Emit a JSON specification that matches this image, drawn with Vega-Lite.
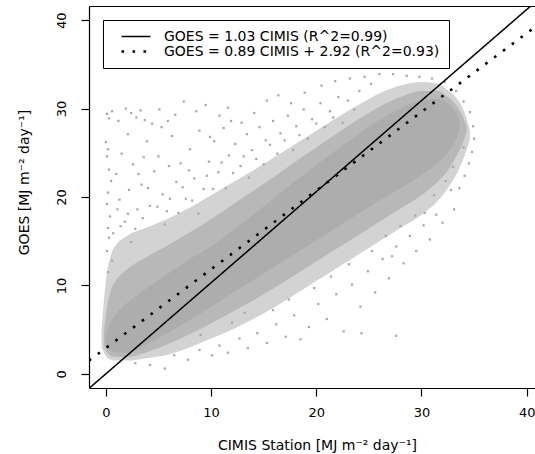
{
  "$schema": "https://vega.github.io/schema/vega-lite/v6.json",
  "width": 446,
  "height": 382,
  "autosize": {"type": "none"},
  "padding": {"left": 89, "top": 6, "right": 0, "bottom": 66},
  "background": "white",
  "config": {
    "view": {"stroke": null},
    "axis": {"grid": false, "domainColor": "black", "domainWidth": 1.2, "tickColor": "black", "tickWidth": 1.2, "tickSize": 8, "labelFont": "DejaVu Sans", "labelFontSize": 13, "labelColor": "black", "titleFont": "DejaVu Sans", "titleFontSize": 14, "titleFontWeight": "normal", "titleColor": "black"},
    "legend": {"labelFont": "DejaVu Sans", "labelFontSize": 14, "labelColor": "black"}
  },
  "datasets": {
    "core": [{"x":0.0,"lo":3.5,"hi":4.3},{"x":0.3,"lo":2.9,"hi":5.4},{"x":1,"lo":2.4,"hi":6.8},{"x":2,"lo":2.4,"hi":8.0},{"x":4,"lo":3.4,"hi":9.8},{"x":6,"lo":4.7,"hi":11.4},{"x":8,"lo":6.1,"hi":13.0},{"x":10,"lo":7.6,"hi":14.4},{"x":12,"lo":9.1,"hi":16.2},{"x":14,"lo":10.6,"hi":18.0},{"x":16,"lo":12.1,"hi":19.9},{"x":18,"lo":13.6,"hi":21.8},{"x":20,"lo":15.1,"hi":23.6},{"x":22,"lo":16.6,"hi":25.4},{"x":24,"lo":18.1,"hi":27.1},{"x":26,"lo":19.6,"hi":28.7},{"x":28,"lo":21.0,"hi":30.0},{"x":30,"lo":22.5,"hi":30.9},{"x":31.5,"lo":23.8,"hi":31.1},{"x":32.5,"lo":25.0,"hi":30.6},{"x":33.2,"lo":26.3,"hi":29.7},{"x":33.6,"lo":27.5,"hi":28.6}],
    "mid": [{"x":-0.2,"lo":3.3,"hi":4.6},{"x":0.1,"lo":2.5,"hi":7.5},{"x":0.5,"lo":2.0,"hi":9.5},{"x":1,"lo":1.9,"hi":10.6},{"x":2,"lo":1.9,"hi":11.8},{"x":4,"lo":2.5,"hi":13.3},{"x":6,"lo":3.4,"hi":14.6},{"x":8,"lo":4.5,"hi":16.0},{"x":10,"lo":5.7,"hi":17.5},{"x":12,"lo":7.0,"hi":19.1},{"x":14,"lo":8.3,"hi":20.7},{"x":16,"lo":9.7,"hi":22.3},{"x":18,"lo":11.2,"hi":24.0},{"x":20,"lo":12.7,"hi":25.6},{"x":22,"lo":14.2,"hi":27.2},{"x":24,"lo":15.7,"hi":28.8},{"x":26,"lo":17.2,"hi":30.2},{"x":28,"lo":18.7,"hi":31.3},{"x":30,"lo":20.2,"hi":32.0},{"x":31.5,"lo":21.7,"hi":32.0},{"x":32.5,"lo":23.0,"hi":31.3},{"x":33.4,"lo":24.8,"hi":30.2},{"x":34,"lo":26.3,"hi":28.9},{"x":34.3,"lo":27.5,"hi":28.0}],
    "halo": [{"x":-0.4,"lo":3.0,"hi":5.0},{"x":0.0,"lo":2.0,"hi":10.5},{"x":0.5,"lo":1.6,"hi":13.5},{"x":1,"lo":1.5,"hi":14.6},{"x":2,"lo":1.5,"hi":15.6},{"x":4,"lo":1.8,"hi":16.6},{"x":6,"lo":2.2,"hi":17.6},{"x":8,"lo":3.0,"hi":18.8},{"x":10,"lo":4.0,"hi":20.2},{"x":12,"lo":5.0,"hi":21.6},{"x":14,"lo":6.2,"hi":23.0},{"x":16,"lo":7.5,"hi":24.5},{"x":18,"lo":9.0,"hi":26.0},{"x":20,"lo":10.5,"hi":27.5},{"x":22,"lo":12.0,"hi":29.0},{"x":24,"lo":13.5,"hi":30.4},{"x":26,"lo":15.0,"hi":31.7},{"x":28,"lo":16.5,"hi":32.6},{"x":30,"lo":18.0,"hi":33.0},{"x":31.5,"lo":19.5,"hi":32.8},{"x":32.5,"lo":21.0,"hi":32.1},{"x":33.5,"lo":23.0,"hi":30.9},{"x":34.2,"lo":25.0,"hi":29.2},{"x":34.6,"lo":26.5,"hi":27.6}],
    "pts": [
      {"x":0.1,"y":29.4},{"x":0.3,"y":28.9},{"x":0.6,"y":29.7},{"x":1.2,"y":28.6},{"x":1.9,"y":30.0},{"x":2.4,"y":29.5},{"x":2.9,"y":29.0},{"x":3.3,"y":29.8},{"x":3.7,"y":28.7},{"x":4.4,"y":28.3},{"x":5.3,"y":27.9},{"x":5.9,"y":28.6},{"x":6.6,"y":29.3},{"x":7.4,"y":30.8},{"x":8.6,"y":29.7},{"x":9.5,"y":30.4},{"x":10.8,"y":29.2},{"x":11.6,"y":30.1},{"x":12.9,"y":28.4},{"x":14.1,"y":29.5},{"x":15.3,"y":30.9},{"x":16.4,"y":31.5},{"x":17.6,"y":30.6},{"x":18.9,"y":31.8},{"x":20.5,"y":32.6},{"x":21.8,"y":33.1},{"x":23.2,"y":33.4},{"x":24.6,"y":33.6},{"x":26.0,"y":33.9},{"x":27.3,"y":33.9},{"x":28.6,"y":33.7},{"x":29.8,"y":33.6},{"x":31.0,"y":33.4},{"x":32.2,"y":33.0},
      {"x":0.0,"y":26.2},{"x":0.2,"y":25.4},{"x":0.1,"y":24.6},{"x":0.3,"y":23.1},{"x":0.5,"y":21.8},{"x":0.2,"y":20.5},{"x":0.1,"y":19.2},{"x":0.4,"y":17.8},{"x":0.2,"y":16.5},{"x":0.3,"y":15.4},{"x":1.0,"y":22.6},{"x":1.5,"y":24.9},{"x":1.3,"y":19.7},{"x":1.8,"y":17.2},{"x":2.2,"y":20.8},{"x":2.6,"y":23.7},{"x":3.0,"y":18.6},{"x":3.4,"y":21.4},{"x":3.9,"y":26.3},{"x":4.2,"y":19.0},{"x":4.6,"y":22.9},{"x":5.0,"y":24.6},{"x":5.4,"y":20.3},{"x":5.8,"y":18.4},{"x":6.3,"y":26.9},{"x":6.7,"y":21.7},{"x":7.1,"y":23.8},{"x":7.6,"y":19.8},{"x":8.0,"y":25.4},{"x":8.4,"y":22.1},{"x":8.9,"y":27.5},{"x":9.3,"y":20.9},{"x":9.8,"y":24.0},{"x":10.3,"y":26.3},{"x":10.7,"y":22.8},{"x":11.2,"y":27.8},{"x":11.7,"y":24.7},{"x":12.3,"y":26.0},{"x":12.8,"y":23.5},{"x":13.4,"y":27.1},{"x":13.9,"y":25.3},{"x":14.6,"y":27.9},{"x":15.2,"y":26.4},{"x":15.9,"y":28.6},{"x":16.6,"y":27.2},{"x":17.3,"y":29.2},{"x":18.1,"y":28.0},{"x":18.8,"y":29.9},{"x":19.6,"y":28.8},{"x":20.4,"y":30.6},{"x":21.3,"y":29.7},{"x":22.1,"y":31.3},{"x":23.0,"y":30.9},{"x":24.1,"y":32.0},{"x":25.2,"y":32.8},
      {"x":0.6,"y":12.8},{"x":0.2,"y":11.5},{"x":0.1,"y":13.9},{"x":0.7,"y":15.9},{"x":1.4,"y":16.7},{"x":2.1,"y":18.1},{"x":2.8,"y":16.4},{"x":3.5,"y":17.6},{"x":4.9,"y":18.9},{"x":5.6,"y":16.9},{"x":6.1,"y":19.8},{"x":6.9,"y":18.2},{"x":7.3,"y":21.1},{"x":8.2,"y":19.6},{"x":8.8,"y":18.1},{"x":9.6,"y":22.4},{"x":10.2,"y":20.9},{"x":11.0,"y":23.9},{"x":11.4,"y":21.0},{"x":12.1,"y":22.7},{"x":13.1,"y":24.6},{"x":13.6,"y":22.2},{"x":14.3,"y":24.3},{"x":15.0,"y":23.7},{"x":15.6,"y":25.9},{"x":16.3,"y":24.9},{"x":17.0,"y":26.4},{"x":17.8,"y":25.3},{"x":18.4,"y":27.0},{"x":19.2,"y":26.6},{"x":20.0,"y":28.3},{"x":20.8,"y":27.9},{"x":21.6,"y":29.0},{"x":22.5,"y":28.4},{"x":23.6,"y":29.9},{"x":1.1,"y":18.6},{"x":2.4,"y":14.9},{"x":3.1,"y":22.6},{"x":4.0,"y":21.0},{"x":6.0,"y":23.5},{"x":7.9,"y":23.0},{"x":9.9,"y":26.8},{"x":11.9,"y":28.6},{"x":2.1,"y":27.1},{"x":3.6,"y":24.5},{"x":5.1,"y":29.9},
      {"x":6.5,"y":2.1},{"x":7.8,"y":1.6},{"x":8.9,"y":2.7},{"x":10.8,"y":3.2},{"x":11.6,"y":2.4},{"x":12.7,"y":4.0},{"x":13.5,"y":2.9},{"x":14.4,"y":4.6},{"x":15.3,"y":3.5},{"x":16.2,"y":5.6},{"x":17.1,"y":4.2},{"x":17.9,"y":6.6},{"x":18.5,"y":3.9},{"x":19.3,"y":5.3},{"x":20.2,"y":7.9},{"x":21.0,"y":6.2},{"x":21.9,"y":9.0},{"x":22.6,"y":4.8},{"x":23.4,"y":10.1},{"x":24.3,"y":4.6},{"x":24.2,"y":7.6},{"x":24.9,"y":11.6},{"x":25.6,"y":9.2},{"x":26.3,"y":13.0},{"x":26.9,"y":10.8},{"x":27.6,"y":4.3},{"x":27.2,"y":13.3},{"x":27.6,"y":14.4},{"x":28.3,"y":12.5},{"x":28.9,"y":15.6},{"x":29.5,"y":13.9},{"x":30.3,"y":18.2},{"x":30.2,"y":16.8},{"x":30.8,"y":15.2},{"x":31.4,"y":18.0},{"x":32.0,"y":17.1},{"x":32.8,"y":20.8},{"x":33.1,"y":18.6},{"x":33.6,"y":21.0},{"x":34.1,"y":22.4},{"x":34.5,"y":23.8},{"x":34.8,"y":25.1},{"x":35.0,"y":26.6},{"x":34.9,"y":28.0},{"x":34.6,"y":29.6},{"x":34.0,"y":30.8},{"x":33.3,"y":32.0},
      {"x":9.0,"y":4.4},{"x":10.1,"y":2.1},{"x":12.0,"y":5.8},{"x":13.2,"y":6.9},{"x":15.9,"y":7.2},{"x":17.4,"y":8.4},{"x":19.8,"y":9.7},{"x":21.4,"y":11.0},{"x":23.1,"y":12.4},{"x":25.3,"y":13.9},{"x":26.6,"y":15.6},{"x":28.0,"y":16.7},{"x":29.4,"y":17.9},{"x":31.2,"y":20.2},{"x":32.3,"y":21.8},{"x":33.0,"y":23.4},{"x":34.0,"y":25.6},{"x":4.2,"y":1.0},{"x":5.6,"y":0.6},{"x":2.8,"y":1.2}
    ],
    "lines": [
      {"model":"GOES = 1.03 CIMIS (R^2=0.99)","x":-1.6,"y":-1.648},
      {"model":"GOES = 1.03 CIMIS (R^2=0.99)","x":41,"y":42.23},
      {"model":"GOES = 0.89 CIMIS + 2.92 (R^2=0.93)","x":-1.6,"y":1.496},
      {"model":"GOES = 0.89 CIMIS + 2.92 (R^2=0.93)","x":41,"y":39.41}
    ]
  },
  "layer": [
    {
      "data": {"name": "halo"},
      "mark": {"type": "area", "color": "#d3d3d3", "interpolate": "monotone"},
      "encoding": {
        "x": {"field": "x", "type": "quantitative", "scale": {"domain": [-1.6, 40.79], "nice": false, "zero": false},
              "axis": {"orient": "bottom", "values": [0, 10, 20, 30, 40], "labelPadding": 10, "labelFlush": false, "labelOverlap": false, "title": "CIMIS Station [MJ m⁻²  day⁻¹]", "titlePadding": 19, "titleX": 228}},
        "y": {"field": "lo", "type": "quantitative", "scale": {"domain": [-1.6, 41.6], "nice": false, "zero": false},
              "axis": {"orient": "left", "values": [0, 10, 20, 30, 40], "labelAngle": -90, "labelAlign": "center", "labelBaseline": "bottom", "labelPadding": 13, "labelFlush": false, "labelOverlap": false, "title": "GOES [MJ m⁻² day⁻¹]", "titlePadding": 24, "titleY": 176}},
        "y2": {"field": "hi"}
      }
    },
    {
      "data": {"name": "mid"},
      "mark": {"type": "area", "color": "#b8b8b8", "interpolate": "monotone"},
      "encoding": {
        "x": {"field": "x", "type": "quantitative", "scale": {"domain": [-1.6, 40.79], "nice": false, "zero": false},
              "axis": {"orient": "top", "ticks": false, "labels": false, "title": null, "domain": true}},
        "y": {"field": "lo", "type": "quantitative", "scale": {"domain": [-1.6, 41.6], "nice": false, "zero": false},
              "axis": {"orient": "left", "values": [0, 10, 20, 30, 40], "labelAngle": -90, "labelAlign": "center", "labelBaseline": "bottom", "labelPadding": 13, "labelFlush": false, "labelOverlap": false, "title": "GOES [MJ m⁻² day⁻¹]", "titlePadding": 24, "titleY": 176}},
        "y2": {"field": "hi"}
      }
    },
    {
      "data": {"name": "core"},
      "mark": {"type": "area", "color": "#adadad", "interpolate": "monotone"},
      "encoding": {
        "x": {"field": "x", "type": "quantitative", "scale": {"domain": [-1.6, 40.79], "nice": false, "zero": false}, "axis": null},
        "y": {"field": "lo", "type": "quantitative", "scale": {"domain": [-1.6, 41.6], "nice": false, "zero": false},
              "axis": {"orient": "left", "values": [0, 10, 20, 30, 40], "labelAngle": -90, "labelAlign": "center", "labelBaseline": "bottom", "labelPadding": 13, "labelFlush": false, "labelOverlap": false, "title": "GOES [MJ m⁻² day⁻¹]", "titlePadding": 24, "titleY": 176}},
        "y2": {"field": "hi"}
      }
    },
    {
      "data": {"name": "pts"},
      "mark": {"type": "point", "shape": "square", "filled": true, "size": 5, "color": "#a8a8a8", "opacity": 1},
      "encoding": {
        "x": {"field": "x", "type": "quantitative", "scale": {"domain": [-1.6, 40.79], "nice": false, "zero": false}, "axis": null},
        "y": {"field": "y", "type": "quantitative", "scale": {"domain": [-1.6, 41.6], "nice": false, "zero": false},
              "axis": {"orient": "left", "values": [0, 10, 20, 30, 40], "labelAngle": -90, "labelAlign": "center", "labelBaseline": "bottom", "labelPadding": 13, "labelFlush": false, "labelOverlap": false, "title": "GOES [MJ m⁻² day⁻¹]", "titlePadding": 24, "titleY": 176}}
      }
    },
    {
      "data": {"name": "lines"},
      "mark": {"type": "line", "clip": true, "color": "black"},
      "encoding": {
        "x": {"field": "x", "type": "quantitative", "scale": {"domain": [-1.6, 40.79], "nice": false, "zero": false}, "axis": null},
        "y": {"field": "y", "type": "quantitative", "scale": {"domain": [-1.6, 41.6], "nice": false, "zero": false},
              "axis": {"orient": "left", "values": [0, 10, 20, 30, 40], "labelAngle": -90, "labelAlign": "center", "labelBaseline": "bottom", "labelPadding": 13, "labelFlush": false, "labelOverlap": false, "title": "GOES [MJ m⁻² day⁻¹]", "titlePadding": 24, "titleY": 176}},
        "detail": {"field": "model"},
        "strokeDash": {"field": "model", "type": "nominal",
          "scale": {"domain": ["GOES = 1.03 CIMIS (R^2=0.99)", "GOES = 0.89 CIMIS + 2.92 (R^2=0.93)"], "range": [[1, 0], [2.6, 8.4]]},
          "legend": {"title": null, "orient": "top-left", "offset": 14, "padding": 9, "strokeColor": "black", "fillColor": "white", "symbolType": "stroke", "symbolSize": 841, "symbolStrokeColor": "black", "symbolStrokeWidth": 1.4, "symbolOffset": 8, "labelOffset": 12, "clipHeight": 15, "rowPadding": 0, "labelLimit": 400}},
        "strokeWidth": {"field": "model", "type": "nominal",
          "scale": {"domain": ["GOES = 1.03 CIMIS (R^2=0.99)", "GOES = 0.89 CIMIS + 2.92 (R^2=0.93)"], "range": [1.5, 2.6]}, "legend": null}
      }
    }
  ]
}
